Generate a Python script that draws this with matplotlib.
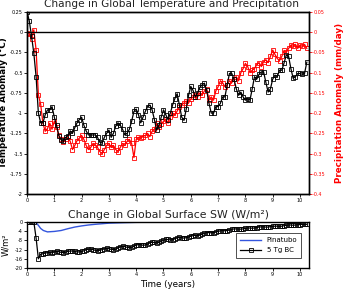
import matplotlib.pyplot as plt
import numpy as np

plt.rcParams['axes.unicode_minus'] = False
plt.rcParams['font.family'] = ['DejaVu Sans']

# monthly global-mean temperature anomaly (deg C), 5 Tg BC run
temp = [0.25, 0.14, -0.05, -0.26, -0.55, -1.00, -1.12, -1.12, -1.02, -0.96,
        -0.96, -0.92, -1.05, -1.15, -1.28, -1.33, -1.35, -1.30, -1.28, -1.22,
        -1.25, -1.18, -1.12, -1.08, -1.05, -1.15, -1.22, -1.27, -1.27, -1.27,
        -1.27, -1.30, -1.36, -1.37, -1.30, -1.25, -1.21, -1.30, -1.25, -1.16,
        -1.12, -1.15, -1.20, -1.27, -1.25, -1.20, -1.10, -0.98, -0.95, -1.02,
        -1.12, -1.05, -0.98, -0.92, -0.90, -0.96, -1.08, -1.21, -1.15, -1.05,
        -0.96, -1.02, -1.08, -1.00, -0.90, -0.82, -0.76, -0.90, -1.05, -1.09,
        -0.95, -0.78, -0.67, -0.72, -0.80, -0.75, -0.68, -0.65, -0.63, -0.72,
        -0.88, -1.00, -1.00, -0.92, -0.92, -0.88, -0.80, -0.80, -0.65, -0.51,
        -0.51, -0.58, -0.70, -0.78, -0.74, -0.80, -0.84, -0.82, -0.84, -0.70,
        -0.55, -0.58, -0.52, -0.49, -0.49, -0.62, -0.74, -0.70, -0.58, -0.53,
        -0.55, -0.47, -0.47, -0.38, -0.28, -0.30, -0.45, -0.57, -0.55, -0.51,
        -0.51, -0.52, -0.51, -0.37]

# monthly global-mean precipitation anomaly (mm/day)
precip = [-0.002, -0.005, -0.016, 0.006, -0.044, -0.155, -0.178, -0.225, -0.245, -0.238,
          -0.225, -0.240, -0.220, -0.235, -0.255, -0.265, -0.272, -0.265, -0.260, -0.270,
          -0.290, -0.280, -0.268, -0.262, -0.255, -0.265, -0.280, -0.290, -0.285, -0.275,
          -0.280, -0.285, -0.295, -0.300, -0.290, -0.280, -0.275, -0.285, -0.280, -0.290,
          -0.295, -0.285, -0.275, -0.280, -0.270, -0.265, -0.275, -0.310, -0.265, -0.260,
          -0.262, -0.258, -0.255, -0.250, -0.258, -0.245, -0.240, -0.225, -0.235, -0.228,
          -0.220, -0.215, -0.225, -0.210, -0.200, -0.205, -0.195, -0.185, -0.180, -0.175,
          -0.170, -0.175, -0.165, -0.160, -0.155, -0.160, -0.150, -0.155, -0.145, -0.140,
          -0.168, -0.160, -0.168, -0.145, -0.135, -0.120, -0.125, -0.135, -0.130, -0.120,
          -0.125, -0.115, -0.110, -0.120, -0.100, -0.090, -0.077, -0.085, -0.100, -0.094,
          -0.090, -0.080, -0.075, -0.085, -0.073, -0.068, -0.075, -0.060, -0.044, -0.055,
          -0.065, -0.070, -0.060, -0.045, -0.050, -0.040, -0.032, -0.035, -0.030, -0.040,
          -0.032, -0.035, -0.030, -0.040]

# monthly surface SW anomaly (W/m2), 5 Tg BC
sw_bc = [0.0, 0.0, 0.0, 0.0, -7.0, -16.0, -14.0, -13.8, -13.5, -13.3,
         -13.2, -13.4, -13.0, -12.8, -12.9, -13.2, -13.3, -13.1, -12.8, -12.6,
         -12.6, -12.8, -13.0, -13.0, -12.8, -12.5, -12.1, -11.8, -11.8, -12.0,
         -12.3, -12.4, -12.3, -12.0, -11.7, -11.5, -11.6, -11.9, -12.0, -11.8,
         -11.3, -10.8, -10.6, -10.7, -11.0, -11.2, -11.0, -10.6, -10.0, -9.8,
         -9.9, -10.1, -10.0, -9.6, -9.1, -8.8, -8.9, -9.1, -8.9, -8.4,
         -7.9, -7.6, -7.6, -7.8, -7.7, -7.3, -6.9, -6.7, -6.8, -7.0,
         -6.8, -6.5, -6.2, -5.9, -5.8, -5.9, -5.7, -5.3, -4.9, -4.6,
         -4.6, -4.7, -4.6, -4.4, -4.1, -3.8, -3.7, -3.8, -3.7, -3.5,
         -3.2, -3.0, -3.0, -3.1, -3.1, -3.0, -2.8, -2.6, -2.6, -2.7,
         -2.6, -2.4, -2.2, -2.1, -2.1, -2.2, -2.2, -2.0, -1.9, -1.8,
         -1.8, -1.9, -1.8, -1.6, -1.4, -1.3, -1.3, -1.4, -1.3, -1.2,
         -1.1, -1.0, -1.0, -1.0]

# Pinatubo surface SW anomaly (W/m2)
pina_years = [0.0, 0.25, 0.33, 0.42, 0.5, 0.6, 0.75, 1.0, 1.25, 1.5, 1.75,
              2.0, 2.25, 2.5, 3.0, 3.5, 4.0, 5.0, 6.0, 8.0, 10.33]
pina_sw = [0.0, 0.0, -0.3, -1.5, -2.8, -3.7, -4.3, -4.1, -3.7, -2.9, -2.2,
           -1.7, -1.3, -1.0, -0.5, -0.3, -0.15, -0.05, 0.0, 0.0, 0.0]

months = np.arange(len(temp)) / 12.0

left_ticks = [0.25, 0, -0.25, -0.5, -0.75, -1, -1.25, -1.5, -1.75, -2]
left_labels = ['0.25', '0', '-0.25', '-0.5', '-0.75', '-1', '-1.25', '-1.5', '-1.75', '-2']
right_ticks = [0.05, 0, -0.05, -0.1, -0.15, -0.2, -0.25, -0.3, -0.35, -0.4]
right_labels = ['0.05', '0', '-0.05', '-0.1', '-0.15', '-0.2', '-0.25', '-0.3', '-0.35', '-0.4']
sw_ticks = [0, -4, -8, -12, -16, -20]
year_ticks = list(range(11))

fig = plt.figure(figsize=(3.43, 2.89), dpi=100)
ax = fig.add_axes([27/343, 1-194/289, 282/343, 182/289])
ax2 = ax.twinx()
axb = fig.add_axes([27/343, 1-268/289, 282/343, 46/289])

ax.axhline(0, color='black', lw=1.0, zorder=1)
ax.plot(months, temp, color='black', lw=0.9, marker='s', ms=2.2, mfc='none',
        mew=0.6, zorder=3)
ax2.plot(months[:len(precip)], precip, color='red', lw=0.9, marker='s', ms=2.2,
         mfc='none', mew=0.6, zorder=2)
ax.set_zorder(ax2.get_zorder() + 1)
ax.patch.set_visible(False)

ax.set_xlim(0, 10.33)
ax.set_ylim(-2, 0.25)
ax2.set_ylim(-0.4, 0.05)
ax.set_yticks(left_ticks)
ax.set_yticklabels(left_labels)
ax2.set_yticks(right_ticks)
ax2.set_yticklabels(right_labels, color='red')
ax.set_xticks(year_ticks)
for a in (ax, ax2, axb):
    a.tick_params(labelsize=3.5, length=2, width=0.6, pad=1)
    for s in a.spines.values():
        s.set_linewidth(1.0)
ax2.tick_params(axis='y', colors='red', labelsize=3.5)
ax2.spines['right'].set_color('black')

ax.set_ylabel('Temperature Anomaly (\u00b0C)', fontsize=6.3, fontweight='bold')
ax.yaxis.set_label_coords(-0.068, 0.5)
ax2.set_ylabel('Precipitation Anomaly (mm/day)', fontsize=6.3, fontweight='bold',
               color='red')
ax2.yaxis.set_label_coords(1.093, 0.5)
fig.text(0.5, 1-4/289, 'Change in Global Temperature and Precipitation',
         ha='center', va='center', fontsize=7.6, color='#222222')

axb.plot(pina_years, pina_sw, color='#3355dd', lw=1.0, label='Pinatubo')
axb.plot(months[:len(sw_bc)], sw_bc, color='black', lw=0.9, marker='s', ms=2.2,
         mfc='none', mew=0.6, label='5 Tg BC')
axb.set_xlim(0, 10.33)
axb.set_ylim(-20, 0)
axb.set_yticks(sw_ticks)
axb.set_xticks(year_ticks)
axb.set_title('Change in Global Surface SW (W/m\u00b2)', fontsize=7.8, pad=3,
              color='#222222')
axb.set_ylabel('W/m\u00b2', fontsize=6)
axb.yaxis.set_label_coords(-0.058, 0.5)
axb.set_xlabel('Time (years)', fontsize=6.3, labelpad=2)
leg = axb.legend(loc='lower right', fontsize=5, frameon=True, fancybox=False,
                 edgecolor='black', handlelength=3.0, borderpad=0.6,
                 labelspacing=0.6, bbox_to_anchor=(0.985, 0.15))
leg.get_frame().set_linewidth(0.6)

fig.savefig('out.png', dpi=100)
